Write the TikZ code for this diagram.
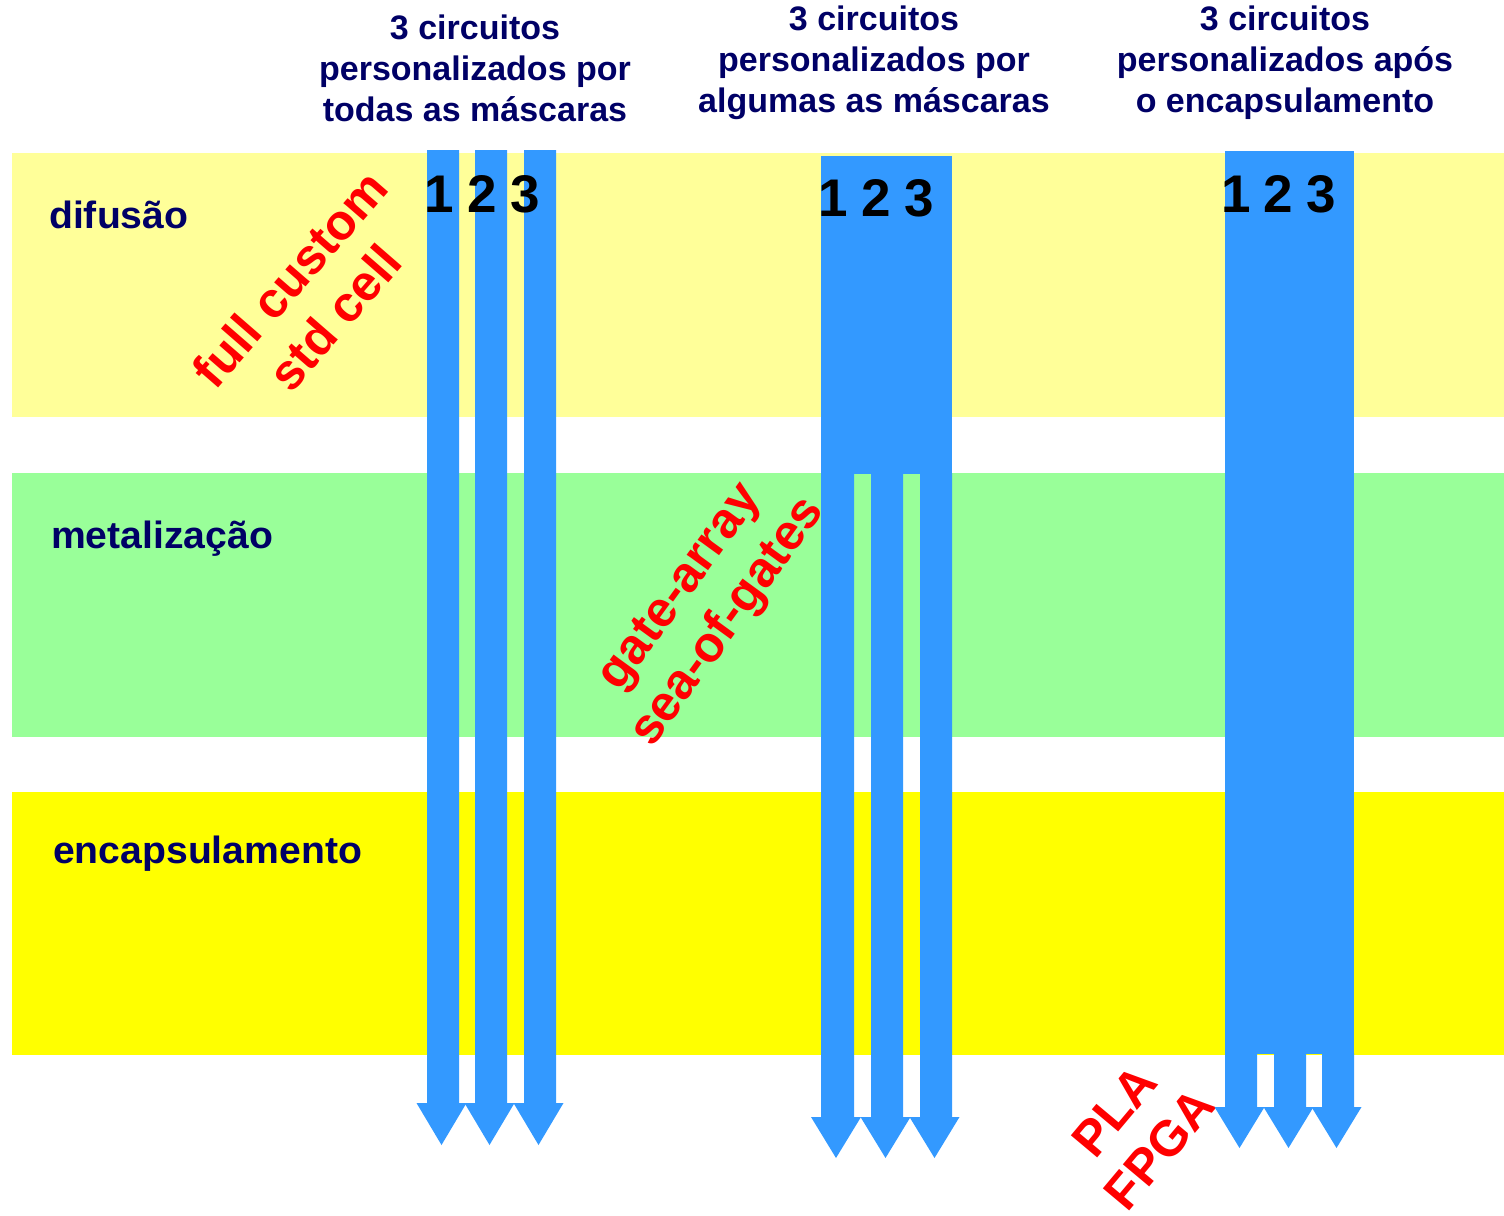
\documentclass[tikz,border=0pt]{standalone}
\usepackage{fontspec}
\setmainfont{Liberation Sans}
\definecolor{bandlight}{HTML}{FFFF99}
\definecolor{bandgreen}{HTML}{99FF99}
\definecolor{bandyellow}{HTML}{FFFF00}
\definecolor{arrowblue}{HTML}{3399FF}
\definecolor{navy}{HTML}{000066}
\definecolor{redtxt}{HTML}{FF0000}
% #1 shaft left x, #2 shaft right x, #3 top y, #4 head base y, #5 tip y
\newcommand{\bararrow}[5]{%
  \fill[arrowblue] (#1,#3) -- (#2,#3) -- (#2,#4) -- ({(#1+#2)/2+23.5},#4)
    -- ({(#1+#2)/2-1.5},#5) -- ({(#1+#2)/2-26.5},#4) -- (#1,#4) -- cycle;}
\begin{document}
\begin{tikzpicture}[x=1pt,y=-1pt,
  titletxt/.style={text=navy,font=\fontsize{34}{41}\selectfont\bfseries,align=center,inner sep=0pt},
  bandlbl/.style={text=navy,font=\fontsize{38}{44}\selectfont\bfseries,anchor=base west,inner sep=0pt},
  digit/.style={text=black,font=\fontsize{53}{53}\selectfont\bfseries,inner sep=0pt},
  redlbl/.style={text=redtxt,font=\fontsize{50}{59}\selectfont\bfseries,align=center,inner sep=0pt}]
\useasboundingbox (0,0) rectangle (1504,1215);

% bands
\fill[bandlight]  (12,153) rectangle (1504,417);
\fill[bandgreen]  (12,473) rectangle (1504,737);
\fill[bandyellow] (12,792) rectangle (1504,1055);

% band labels
\node[bandlbl] (ldif) at (49,228) {\scalebox{1.03}[1]{difusão}};
\node[bandlbl] (lmet) at (51,548) {\scalebox{1.03}[1]{metalização}};
\node[bandlbl] (lenc) at (53,863) {\scalebox{1.03}[1]{encapsulamento}};

% titles
\node[titletxt] (t1) at (475,68) {3 circuitos\\personalizados por\\todas as máscaras};
\node[titletxt] (t2) at (874,63) {3 circuitos\\personalizados por\\algumas as máscaras};
\node[titletxt] (t3) at (1285,63) {3 circuitos\\personalizados após\\o encapsulamento};

% red rotated labels
\node[redlbl,rotate=49] (rfull) at (312,298) {full custom\\std cell};
\node[redlbl,rotate=54] (rgate) at (706,606) {gate-array\\sea-of-gates};
\node[redlbl,rotate=50] (rpla) at (1137,1130) {PLA\\FPGA};

% group 1: fully customized
\bararrow{427}{459}{150}{1103}{1145}
\bararrow{475}{507}{150}{1103}{1145}
\bararrow{524}{556}{150}{1103}{1145}

% group 2: customized by some masks
\fill[arrowblue] (821,156) rectangle (952,474);
\bararrow{821}{854}{473}{1117}{1158}
\bararrow{871}{903}{473}{1117}{1158}
\bararrow{920}{952}{473}{1117}{1158}

% group 3: customized after packaging
\fill[arrowblue] (1225,151) rectangle (1354,1054);
\bararrow{1225}{1257}{1053}{1107}{1148}
\bararrow{1274}{1306}{1053}{1107}{1148}
\bararrow{1322}{1354}{1053}{1107}{1148}

% digits
\node[digit] (a1) at (439,194) {1};
\node[digit] (a2) at (482,194) {2};
\node[digit] (a3) at (525,194) {3};
\node[digit] (b1) at (833,198) {1};
\node[digit] (b2) at (876,198) {2};
\node[digit] (b3) at (919,198) {3};
\node[digit] (c1) at (1236,194) {1};
\node[digit] (c2) at (1278,194) {2};
\node[digit] (c3) at (1321,194) {3};
\end{tikzpicture}
\end{document}
